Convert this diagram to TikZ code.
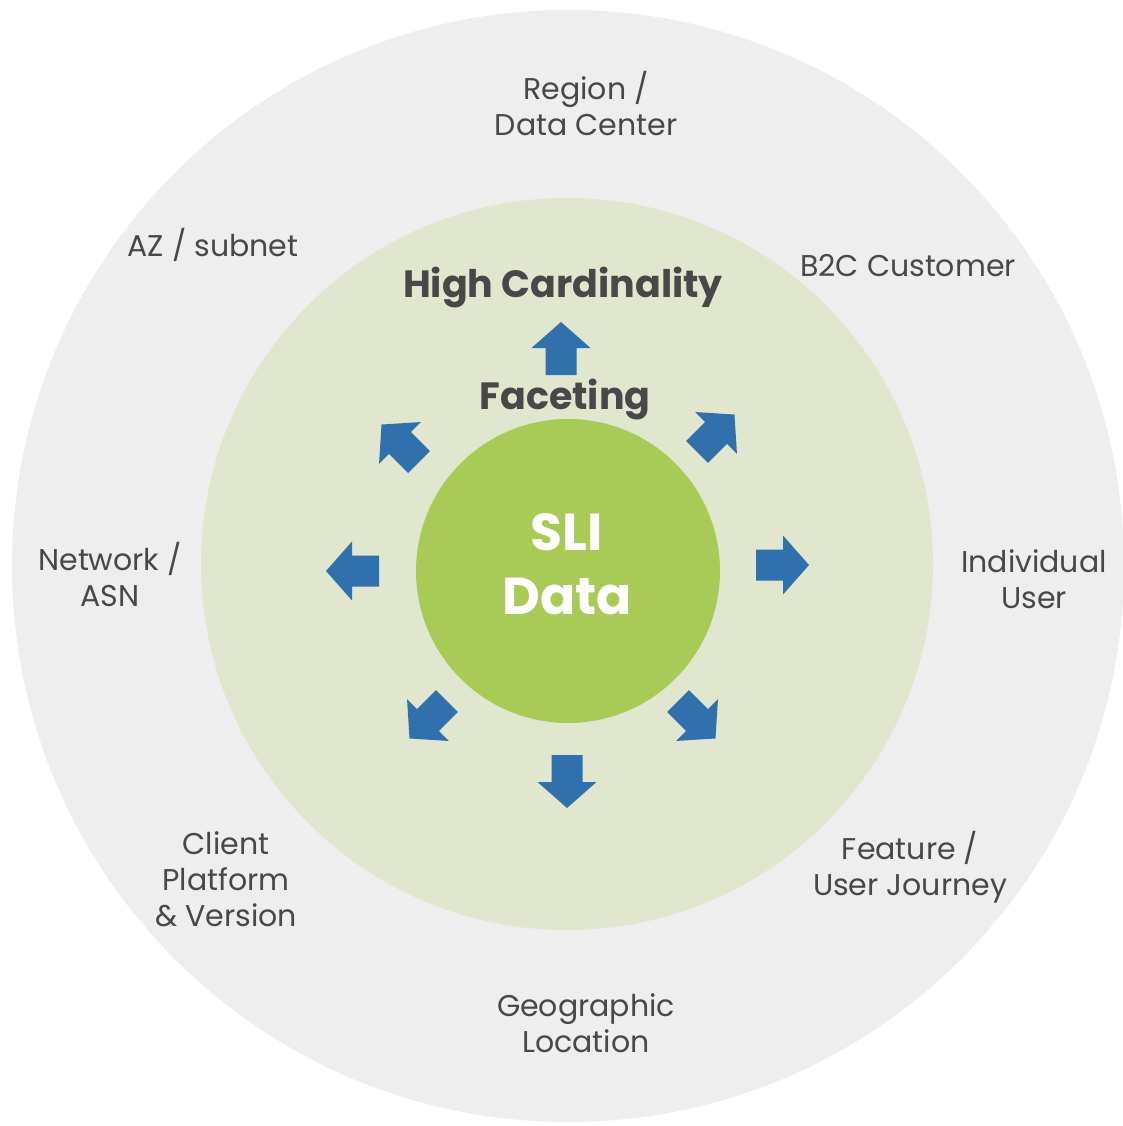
\documentclass[tikz,border=0pt]{standalone}
\usepackage{fontspec}
\setmainfont{Poppins}
\usetikzlibrary{positioning}

\definecolor{ringgray}{HTML}{EEEEEE}
\definecolor{ringsage}{HTML}{E1E6CE}
\definecolor{coregreen}{HTML}{A8CA57}
\definecolor{facetblue}{HTML}{3070AD}
\definecolor{labelgray}{HTML}{484848}

\begin{document}
\begin{tikzpicture}[x=1pt, y=-1pt,
    dim/.style={align=center, text=labelgray, font=\fontsize{30}{36}\selectfont},
    ringtitle/.style={align=center, text=labelgray, font=\fontsize{38}{44}\selectfont\bfseries},
    pics/facet/.style={code={
      \fill[facetblue] (0,-15.5) -- (27,-15.5) -- (27,-29.5) -- (53,0)
        -- (27,29.5) -- (27,15.5) -- (0,15.5) -- cycle;}}]
  \useasboundingbox (0,0) rectangle (1123,1126);

  % rings
  \fill[ringgray] (568,566) circle[radius=556];
  \fill[ringsage] (567,564) circle[radius=366];
  \fill[coregreen] (568,571) circle[radius=152];

  % center and ring titles
  \node[align=center, text=white, font=\fontsize{52}{64}\selectfont\bfseries] (core) at (567,564) {SLI\\Data};
  \node[ringtitle] (facet) at (565,400) {Faceting};
  \node[ringtitle] (cardinality) at (563,288) {High Cardinality};

  % arrows out of the core
  \pic[rotate=90]  at (561,375) {facet};
  \pic[rotate=-90] at (567,755) {facet};
  \pic[rotate=180] at (379,571) {facet};
  \pic             at (756,565) {facet};
  \pic[rotate=45]  at (697,452) {facet};
  \pic[rotate=135] at (419,462) {facet};
  \pic[rotate=-135] at (447,701) {facet};
  \pic[rotate=-45] at (678,701) {facet};

  % dimensions on the outer ring
  \node[dim] (region) at (586,104) {Region /\\Data Center};
  \node[dim] (az) at (213,245) {AZ / subnet};
  \node[dim] (btoc) at (908,266) {B2C Customer};
  \node[dim] (network) at (110,574) {Network /\\ASN};
  \node[dim] (user) at (1034,579) {Individual\\User};
  \node[dim] (client) at (226,879) {Client\\Platform\\\& Version};
  \node[dim] (journey) at (910,867) {Feature /\\User Journey};
  \node[dim] (geo) at (586,1023) {Geographic\\Location};
\end{tikzpicture}
\end{document}
